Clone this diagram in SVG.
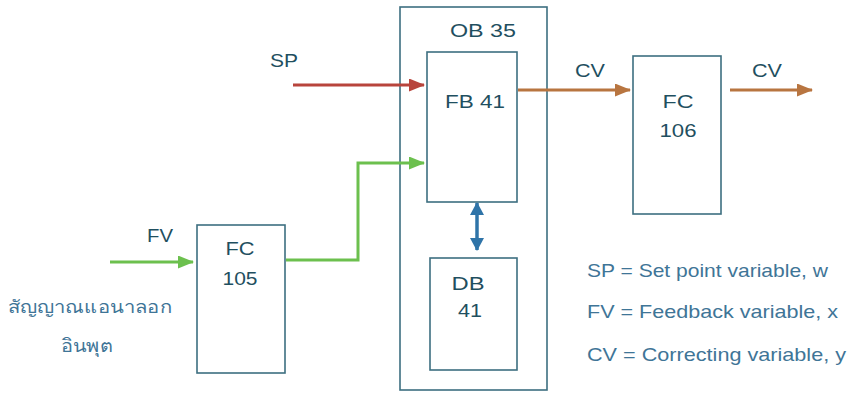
<svg xmlns="http://www.w3.org/2000/svg" width="848" height="397" viewBox="0 0 848 397">
<style>
.box{fill:#ffffff;stroke:#3d6f80;stroke-width:1.6}
.lbl{font-family:"Liberation Sans",Arial,sans-serif;font-size:18px;fill:#1f4f60;text-anchor:middle}
.leg{font-family:"Liberation Sans",Arial,sans-serif;font-size:18.5px;fill:#3f7597}
.th{font-family:"Noto Sans","DejaVu Sans",sans-serif;font-size:18px;fill:#3f7597;text-anchor:middle}
.red{fill:none;stroke:#b8443c;stroke-width:3}
.grn{fill:none;stroke:#6cc04e;stroke-width:3}
.brn{fill:none;stroke:#b87540;stroke-width:3}
.blu{fill:none;stroke:#2f74a8;stroke-width:3.5}
</style>
<defs>
<marker id="ar" viewBox="0 0 16 13" refX="15" refY="6.5" markerWidth="16" markerHeight="13" markerUnits="userSpaceOnUse" orient="auto"><path d="M0,0 L16,6.5 L0,13 z" fill="#b8443c"/></marker>
<marker id="ag" viewBox="0 0 16 13" refX="15" refY="6.5" markerWidth="16" markerHeight="13" markerUnits="userSpaceOnUse" orient="auto"><path d="M0,0 L16,6.5 L0,13 z" fill="#6cc04e"/></marker>
<marker id="ab" viewBox="0 0 16 13" refX="15" refY="6.5" markerWidth="16" markerHeight="13" markerUnits="userSpaceOnUse" orient="auto"><path d="M0,0 L16,6.5 L0,13 z" fill="#b87540"/></marker>
<marker id="au" viewBox="0 0 13 14" refX="12" refY="7" markerWidth="13" markerHeight="14" markerUnits="userSpaceOnUse" orient="auto-start-reverse"><path d="M0,0 L13,7 L0,14 z" fill="#2f74a8"/></marker>
</defs>
<rect width="848" height="397" fill="#ffffff"/>
<g id="ob35"><rect class="box" x="400" y="7" width="147" height="383"/><text class="lbl" x="483" y="37" textLength="66" lengthAdjust="spacingAndGlyphs">OB 35</text></g>
<g id="fb41"><rect class="box" x="427" y="52" width="90" height="150"/><text class="lbl" x="475" y="108" textLength="60" lengthAdjust="spacingAndGlyphs">FB 41</text></g>
<g id="db41"><rect class="box" x="430" y="258" width="87" height="112"/><text class="lbl" x="468" y="290" textLength="33" lengthAdjust="spacingAndGlyphs">DB</text><text class="lbl" x="470" y="317" textLength="24" lengthAdjust="spacingAndGlyphs">41</text></g>
<g id="fc105"><rect class="box" x="197" y="225" width="88" height="148"/><text class="lbl" x="240" y="255" textLength="29" lengthAdjust="spacingAndGlyphs">FC</text><text class="lbl" x="240" y="285" textLength="35" lengthAdjust="spacingAndGlyphs">105</text></g>
<g id="fc106"><rect class="box" x="633" y="56" width="88" height="158"/><text class="lbl" x="678" y="108" textLength="31" lengthAdjust="spacingAndGlyphs">FC</text><text class="lbl" x="678" y="137" textLength="37" lengthAdjust="spacingAndGlyphs">106</text></g>
<g id="connectors">
<line class="red" x1="293" y1="85" x2="424" y2="85" marker-end="url(#ar)"/>
<line class="grn" x1="110" y1="262" x2="193" y2="262" marker-end="url(#ag)"/>
<polyline class="grn" points="286,260 358,260 358,163 424,163" marker-end="url(#ag)"/>
<line class="brn" x1="518" y1="90" x2="630" y2="90" marker-end="url(#ab)"/>
<line class="brn" x1="730" y1="90" x2="812" y2="90" marker-end="url(#ab)"/>
<line class="blu" x1="477" y1="203" x2="477" y2="250" marker-start="url(#au)" marker-end="url(#au)"/>
</g>
<g id="labels">
<text class="lbl" x="284" y="67" textLength="28" lengthAdjust="spacingAndGlyphs">SP</text>
<text class="lbl" x="160" y="242" textLength="26" lengthAdjust="spacingAndGlyphs">FV</text>
<text class="lbl" x="590" y="77" textLength="30" lengthAdjust="spacingAndGlyphs">CV</text>
<text class="lbl" x="767" y="77" textLength="30" lengthAdjust="spacingAndGlyphs">CV</text>
<text class="th" x="90" y="313" textLength="164" lengthAdjust="spacingAndGlyphs">สัญญาณแอนาลอก</text>
<text class="th" x="87" y="352" textLength="52" lengthAdjust="spacingAndGlyphs">อินพุต</text>
<text class="leg" x="587" y="277" textLength="241" lengthAdjust="spacingAndGlyphs">SP = Set point variable, w</text>
<text class="leg" x="587" y="318" textLength="251" lengthAdjust="spacingAndGlyphs">FV = Feedback variable, x</text>
<text class="leg" x="587" y="361" textLength="259" lengthAdjust="spacingAndGlyphs">CV = Correcting variable, y</text>
</g>
</svg>
